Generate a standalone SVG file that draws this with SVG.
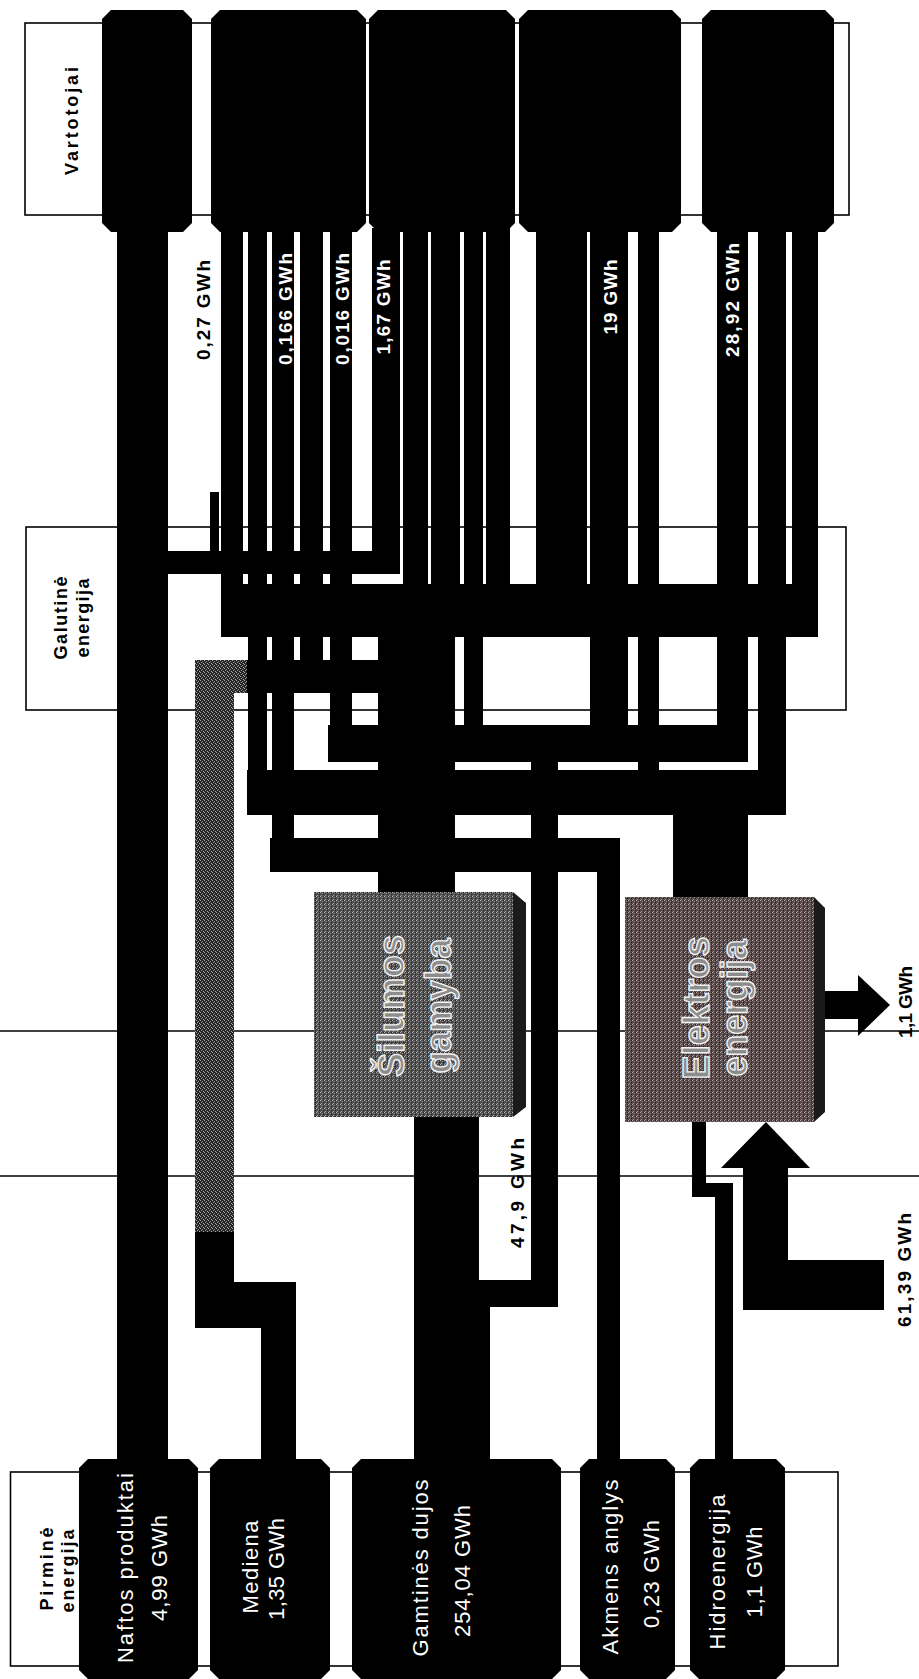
<svg xmlns="http://www.w3.org/2000/svg" width="919" height="1679" viewBox="0 0 919 1679">
<style>
.frame{fill:#fff;stroke:#000;stroke-width:1.6}
.rule{stroke:#000;stroke-width:1.6}
.blk{fill:#000}
.bar{fill:#000}
.t{font-family:"Liberation Sans",Arial,sans-serif}
.src{font-size:22px;fill:#fff}
.ttl{font-size:18px;font-weight:bold;fill:#000}
.lw{font-size:19px;font-weight:bold;fill:#fff}
.lb{font-size:19px;font-weight:bold;fill:#000}
.big{font-size:36px;font-weight:bold;fill:#8c8c8c;stroke:#f2f2f2;stroke-width:1.4}
</style>
<defs>
<pattern id="grayA" width="4" height="4" patternUnits="userSpaceOnUse">
<rect width="4" height="4" fill="#505050"/>
<rect x="0" y="0" width="1" height="1" fill="#b5b5b5"/>
<rect x="2" y="1" width="1" height="1" fill="#8c8c8c"/>
<rect x="1" y="3" width="1" height="1" fill="#a0a0a0"/>
<rect x="3" y="2" width="1" height="1" fill="#222"/>
<rect x="3" y="0" width="1" height="1" fill="#2a2a2a"/>
</pattern>
<pattern id="grayB" width="4" height="4" patternUnits="userSpaceOnUse">
<rect width="4" height="4" fill="#564a4a"/>
<rect x="0" y="0" width="1" height="1" fill="#b8a8a8"/>
<rect x="2" y="1" width="1" height="1" fill="#907f7f"/>
<rect x="1" y="3" width="1" height="1" fill="#a69494"/>
<rect x="3" y="2" width="1" height="1" fill="#241c1c"/>
<rect x="3" y="0" width="1" height="1" fill="#2e2424"/>
</pattern>
<pattern id="speck" width="4" height="4" patternUnits="userSpaceOnUse">
<rect width="4" height="4" fill="#262626"/>
<rect x="0" y="0" width="1" height="1" fill="#a8a8a8"/>
<rect x="2" y="1" width="1" height="1" fill="#8a8a8a"/>
<rect x="1" y="2" width="1" height="1" fill="#9a9a9a"/>
<rect x="3" y="3" width="1" height="1" fill="#b0b0b0"/>
</pattern>
</defs>
<rect width="919" height="1679" fill="#fff"/>

<g id="rules">
<line class="rule" x1="0" y1="1031" x2="919" y2="1031"/>
<line class="rule" x1="0" y1="1176" x2="919" y2="1176"/>
</g>

<g id="frames">
<rect class="frame" x="25" y="23" width="824" height="192"/>
<rect class="frame" x="26" y="527" width="820" height="183"/>
<rect class="frame" x="10.5" y="1472" width="827.5" height="194"/>
<text class="t ttl" transform="translate(78,121) rotate(-90)" text-anchor="middle" textLength="108" lengthAdjust="spacing">Vartotojai</text>
<text class="t ttl" transform="translate(67,618) rotate(-90)" text-anchor="middle" textLength="83" lengthAdjust="spacing">Galutinė</text>
<text class="t ttl" transform="translate(89,618) rotate(-90)" text-anchor="middle" textLength="79" lengthAdjust="spacing">energija</text>
<text class="t ttl" transform="translate(53,1569) rotate(-90)" text-anchor="middle" textLength="83" lengthAdjust="spacing">Pirminė</text>
<text class="t ttl" transform="translate(74,1571) rotate(-90)" text-anchor="middle" textLength="83" lengthAdjust="spacing">energija</text>
</g>

<g id="connectors">
<!-- consumer 1 / naftos -->
<rect class="bar" x="117" y="228" width="51" height="1234"/>
<!-- consumer 2 bars -->
<rect class="bar" x="210" y="492" width="9" height="63"/>
<rect class="bar" x="221" y="228" width="22" height="409"/>
<rect class="bar" x="248" y="228" width="19" height="587"/>
<rect class="bar" x="272" y="228" width="22" height="644"/>
<rect class="bar" x="300" y="228" width="23" height="465"/>
<rect class="bar" x="330" y="228" width="22" height="534"/>
<!-- consumer 3 bars -->
<rect class="bar" x="372" y="228" width="28" height="346"/>
<rect class="bar" x="403" y="228" width="25" height="409"/>
<rect class="bar" x="431" y="228" width="29" height="409"/>
<rect class="bar" x="464" y="228" width="19" height="497"/>
<rect class="bar" x="486" y="228" width="24" height="409"/>
<!-- consumer 4 bars -->
<rect class="bar" x="536" y="228" width="51" height="409"/>
<rect class="bar" x="590" y="228" width="38" height="534"/>
<rect class="bar" x="638" y="228" width="21" height="587"/>
<!-- consumer 5 bars -->
<rect class="bar" x="717" y="228" width="31" height="534"/>
<rect class="bar" x="758" y="228" width="28" height="587"/>
<rect class="bar" x="792" y="228" width="26" height="409"/>
<!-- horizontal bands -->
<rect class="bar" x="168" y="551" width="232" height="23"/>
<rect class="bar" x="221" y="584" width="597" height="53"/>
<rect class="bar" x="195" y="660" width="183" height="33"/>
<rect class="bar" x="328" y="725" width="420" height="37"/>
<rect class="bar" x="247" y="770" width="539" height="45"/>
<rect class="bar" x="270" y="838" width="350" height="34"/>
<!-- heat -->
<rect class="bar" x="378" y="637" width="77" height="258"/>
<!-- mediena path -->
<rect x="195" y="660" width="52" height="33" fill="url(#speck)"/>
<rect x="195" y="693" width="39" height="539" fill="url(#speck)"/>
<rect class="bar" x="195" y="1232" width="39" height="50"/>
<rect class="bar" x="195" y="1282" width="101" height="46"/>
<rect class="bar" x="261" y="1282" width="35" height="180"/>
<!-- gas -->
<rect class="bar" x="531" y="725" width="27" height="582"/>
<rect class="bar" x="479" y="1280" width="79" height="27"/>
<rect class="bar" x="414" y="1112" width="65" height="195"/>
<rect class="bar" x="414" y="1300" width="76" height="162"/>
<!-- coal -->
<rect class="bar" x="597" y="838" width="23" height="624"/>
<!-- electricity -->
<rect class="bar" x="673" y="815" width="75" height="85"/>
<!-- hydro -->
<rect class="bar" x="692" y="1118" width="14" height="79"/>
<rect class="bar" x="692" y="1183" width="41" height="14"/>
<rect class="bar" x="715" y="1183" width="18" height="279"/>
<!-- import / export arrows -->
<polygon class="bar" points="766,1122 810,1168 788,1168 788,1260 884,1260 884,1310 743,1310 743,1168 721,1168"/>
<polygon class="bar" points="818,991 858,991 858,975 890,1005 858,1036 858,1019 818,1019"/>
</g>

<g id="consumers">
<polygon id="c1" class="blk" points="111,10 183,10 192,19 192,223 183,232 111,232 102,223 102,19"/>
<polygon id="c2" class="blk" points="220,10 357,10 366,19 366,223 357,232 220,232 211,223 211,19"/>
<polygon id="c3" class="blk" points="378,10 506,10 515,19 515,223 506,232 378,232 369,223 369,19"/>
<polygon id="c4" class="blk" points="528,10 672,10 681,19 681,223 672,232 528,232 519,223 519,19"/>
<polygon id="c5" class="blk" points="711,10 825,10 834,19 834,223 825,232 711,232 702,223 702,19"/>
</g>

<g id="src-naftos">
<polygon class="blk" points="88,1459 189,1459 198,1468 198,1670 189,1679 88,1679 79,1670 79,1468"/>
<text class="t src" transform="translate(133,1568) rotate(-90)" text-anchor="middle" textLength="190" lengthAdjust="spacing">Naftos produktai</text>
<text class="t src" transform="translate(167,1568) rotate(-90)" text-anchor="middle" textLength="106" lengthAdjust="spacing">4,99 GWh</text>
</g>
<g id="src-mediena">
<polygon class="blk" points="219,1459 321,1459 330,1468 330,1670 321,1679 219,1679 210,1670 210,1468"/>
<text class="t src" transform="translate(258,1567) rotate(-90)" text-anchor="middle" textLength="93" lengthAdjust="spacing">Mediena</text>
<text class="t src" transform="translate(284,1569) rotate(-90)" text-anchor="middle" textLength="102" lengthAdjust="spacing">1,35 GWh</text>
</g>
<g id="src-dujos">
<polygon class="blk" points="361,1459 552,1459 561,1468 561,1670 552,1679 361,1679 352,1670 352,1468"/>
<text class="t src" transform="translate(428,1568) rotate(-90)" text-anchor="middle" textLength="177" lengthAdjust="spacing">Gamtinės dujos</text>
<text class="t src" transform="translate(470,1571) rotate(-90)" text-anchor="middle" textLength="132" lengthAdjust="spacing">254,04 GWh</text>
</g>
<g id="src-anglys">
<polygon class="blk" points="589,1459 666,1459 675,1468 675,1670 666,1679 589,1679 580,1670 580,1468"/>
<text class="t src" transform="translate(618,1567) rotate(-90)" text-anchor="middle" textLength="175" lengthAdjust="spacing">Akmens anglys</text>
<text class="t src" transform="translate(659,1574) rotate(-90)" text-anchor="middle" textLength="108" lengthAdjust="spacing">0,23 GWh</text>
</g>
<g id="src-hidro">
<polygon class="blk" points="699,1459 776,1459 785,1468 785,1670 776,1679 699,1679 690,1670 690,1468"/>
<text class="t src" transform="translate(725,1572) rotate(-90)" text-anchor="middle" textLength="155" lengthAdjust="spacing">Hidroenergija</text>
<text class="t src" transform="translate(762,1572) rotate(-90)" text-anchor="middle" textLength="91" lengthAdjust="spacing">1,1 GWh</text>
</g>

<g id="silumos">
<rect x="314" y="892" width="199" height="225" fill="url(#grayA)"/>
<polygon points="513,892 526,903 526,1107 513,1117" fill="#1a1a1a"/>
<text class="t big" transform="translate(404,1006) rotate(-90)" text-anchor="middle" textLength="142" lengthAdjust="spacing">Šilumos</text>
<text class="t big" transform="translate(451,1006) rotate(-90)" text-anchor="middle" textLength="135" lengthAdjust="spacing">gamyba</text>
</g>
<g id="elektros">
<rect x="625" y="897" width="189" height="225" fill="url(#grayB)"/>
<polygon points="814,897 825,908 825,1112 814,1122" fill="#1a1a1a"/>
<text class="t big" transform="translate(709,1008) rotate(-90)" text-anchor="middle" textLength="143" lengthAdjust="spacing">Elektros</text>
<text class="t big" transform="translate(747,1008) rotate(-90)" text-anchor="middle" textLength="137" lengthAdjust="spacing">energija</text>
</g>

<g id="labels">
<text class="t lb" transform="translate(210,310) rotate(-90)" text-anchor="middle" textLength="100" lengthAdjust="spacing">0,27 GWh</text>
<text class="t lw" transform="translate(292,309) rotate(-90)" text-anchor="middle" textLength="112" lengthAdjust="spacing">0,166 GWh</text>
<text class="t lw" transform="translate(349,309) rotate(-90)" text-anchor="middle" textLength="112" lengthAdjust="spacing">0,016 GWh</text>
<text class="t lw" transform="translate(390,307) rotate(-90)" text-anchor="middle" textLength="95" lengthAdjust="spacing">1,67 GWh</text>
<text class="t lw" transform="translate(617,297) rotate(-90)" text-anchor="middle" textLength="75" lengthAdjust="spacing">19 GWh</text>
<text class="t lw" transform="translate(739,300) rotate(-90)" text-anchor="middle" textLength="114" lengthAdjust="spacing">28,92 GWh</text>
<text class="t lb" transform="translate(524,1193) rotate(-90)" text-anchor="middle" textLength="110" lengthAdjust="spacing">47,9 GWh</text>
<text class="t lb" transform="translate(911,1270) rotate(-90)" text-anchor="middle" textLength="114" lengthAdjust="spacing">61,39 GWh</text>
<text class="t lb" transform="translate(912,1002) rotate(-90)" text-anchor="middle" textLength="72" lengthAdjust="spacing">1,1 GWh</text>
</g>
</svg>
